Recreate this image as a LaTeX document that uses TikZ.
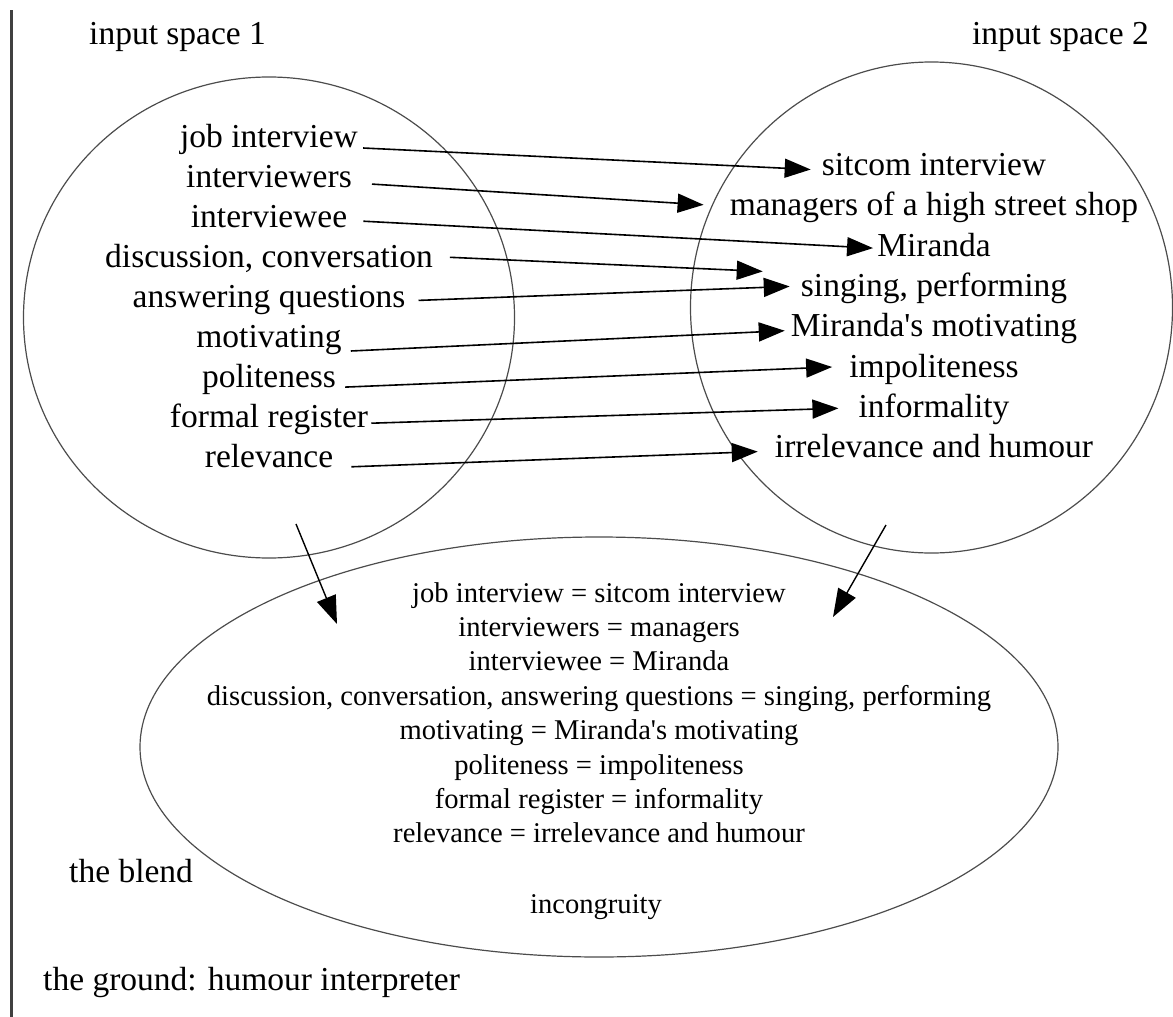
\documentclass[tikz,border=0pt]{standalone}
\usepackage{fontspec}
\setmainfont{Liberation Serif}[Ligatures=TeXOff]
\usetikzlibrary{arrows.meta,shapes.geometric}
\begin{document}
\begin{tikzpicture}[x=1pt,y=-1pt,
  big/.style={inner sep=0pt, font=\fontsize{33.5}{40}\selectfont},
  small/.style={inner sep=0pt, anchor=base, font=\fontsize{28.6}{34}\selectfont},
  lft/.style={big, anchor=base},
  rgt/.style={big, anchor=base},
  space/.style={ellipse, draw=black!70, line width=1.2pt, inner sep=0pt},
  arr/.style={line width=1.6pt, -{Triangle[length=26pt,width=19pt]}},
  darr/.style={line width=1.4pt, -{Triangle[length=28pt,width=20pt]}}]
\useasboundingbox (0,0) rectangle (1173,1017);
% ground frame line
\coordinate (gtop) at (11,10);
\coordinate (gbot) at (11,1017);
\draw[line width=3pt, black!75] (gtop) -- (gbot);
% spaces
\node[space, minimum width=491pt, minimum height=481pt] (c1) at (269,317.5) {};
\node[space, minimum width=482pt, minimum height=491pt] (c2) at (931.5,307.5) {};
\node[space, minimum width=918pt, minimum height=420pt] (bl) at (599,747) {};
% labels
\node[big, anchor=base west] (t1) at (89,44) {input space 1};
\node[big, anchor=base east] (t2) at (1149,44) {input space 2};
\node[big, anchor=base west] (tb) at (69,882) {the blend};
\node[big, anchor=base west] (tg) at (43,990) {the ground: humour interpreter};
% input space 1
\node[lft] (L1) at (269,147) {job interview};
\node[lft] (L2) at (269,187.1) {interviewers};
\node[lft] (L3) at (269,227.2) {interviewee};
\node[lft] (L4) at (269,267.3) {discussion, conversation};
\node[lft] (L5) at (269,307.4) {answering questions};
\node[lft] (L6) at (269,347.5) {motivating};
\node[lft] (L7) at (269,387.6) {politeness};
\node[lft] (L8) at (269,427.7) {formal register};
\node[lft] (L9) at (269,467.8) {relevance};
% input space 2
\node[rgt] (R1) at (934,175.5) {sitcom interview};
\node[rgt] (R2) at (934,215.8) {managers of a high street shop};
\node[rgt] (R3) at (934,256.1) {Miranda};
\node[rgt] (R4) at (934,296.4) {singing, performing};
\node[rgt] (R5) at (934,336.7) {Miranda's motivating};
\node[rgt] (R6) at (934,377) {impoliteness};
\node[rgt] (R7) at (934,417.3) {informality};
\node[rgt] (R8) at (934,457.6) {irrelevance and humour};
% mappings
\draw[arr] ([shift={(5,1)}]L1.base east) -- ([shift={(-11,-6)}]R1.base west);
\draw[arr] ([shift={(20,-3)}]L2.base east) -- ([shift={(-26,-11)}]R2.base west);
\draw[arr] ([shift={(16,-6)}]L3.base east) -- ([shift={(-4,-8)}]R3.base west);
\draw[arr] ([shift={(17,-10)}]L4.base east) -- ([shift={(-38,-25)}]R4.base west);
\draw[arr] ([shift={(13,-7)}]L5.base east) -- ([shift={(-11,-10)}]R4.base west);
\draw[arr] ([shift={(9,3.5)}]L6.base east) -- ([shift={(-6,-6)}]R5.base west);
\draw[arr] ([shift={(9,-0.5)}]L7.base east) -- ([shift={(-17,-10)}]R6.base west);
\draw[arr] ([shift={(3,-4.5)}]L8.base east) -- ([shift={(-20,-9)}]R7.base west);
\draw[arr] ([shift={(18,-1)}]L9.base east) -- ([shift={(-17,-6)}]R8.base west);
% projections into the blend
\draw[darr] ([shift={(27,206.5)}]c1.center) -- ([shift={(-262,-123)}]bl.center);
\draw[darr] ([shift={(-45.5,217.5)}]c2.center) -- ([shift={(234,-130)}]bl.center);
% blend contents
\node[small] (B1) at (599,602) {job interview = sitcom interview};
\node[small] (B2) at (599,636.4) {interviewers = managers};
\node[small] (B3) at (599,670.8) {interviewee = Miranda};
\node[small] (B4) at (599,705.2) {discussion, conversation, answering questions = singing, performing};
\node[small] (B5) at (599,739.6) {motivating = Miranda's motivating};
\node[small] (B6) at (599,774) {politeness = impoliteness};
\node[small] (B7) at (599,808.4) {formal register = informality};
\node[small] (B8) at (599,842.8) {relevance = irrelevance and humour};
\node[small] (B9) at (596,913) {incongruity};
\end{tikzpicture}
\end{document}
